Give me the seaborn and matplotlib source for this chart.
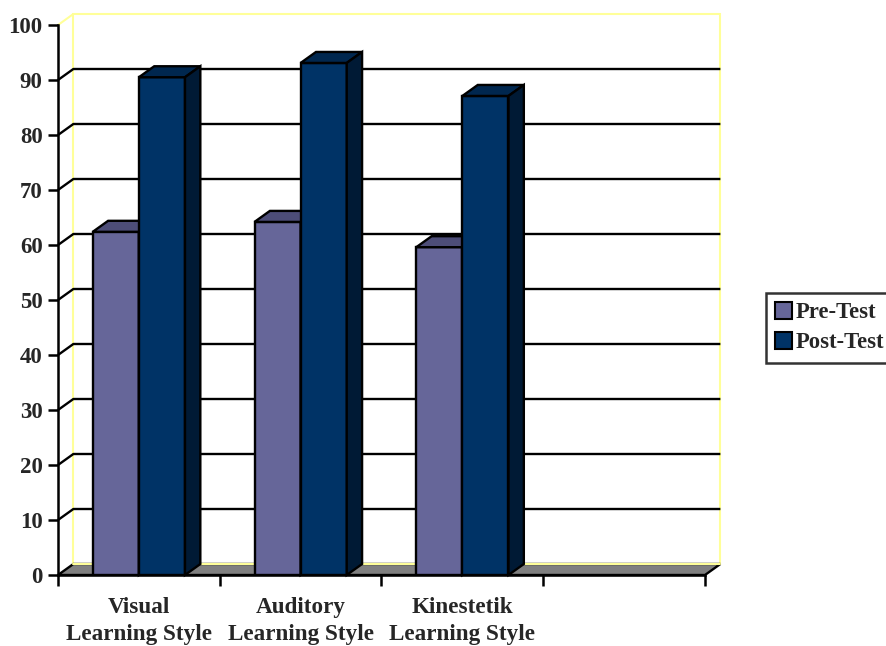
import matplotlib
matplotlib.use("Agg")
import matplotlib.pyplot as plt
from matplotlib.patches import Polygon
import pandas as pd
import seaborn as sns

categories = ['Visual\nLearning Style', 'Auditory\nLearning Style', 'Kinestetik\nLearning Style', ' ']
series = ['Pre-Test', 'Post-Test']
pre_test = [62.4, 64.2, 59.6]
post_test = [90.5, 93.1, 87.1]
y_ticks = [0, 10, 20, 30, 40, 50, 60, 70, 80, 90, 100]

front_colors = ['#666699', '#003366']
top_colors = ['#4d4d78', '#00274f']
side_colors = ['#3f3f63', '#001a35']
wall_col = '#ffff99'
lw = 1.7

sns.set_theme(style='white')
plt.rcParams['font.family'] = ['Liberation Serif', 'DejaVu Serif']
plt.rcParams['font.weight'] = 'bold'

data = pd.DataFrame({
    'Category': categories[:3] * 2,
    'Series': [series[0]] * 3 + [series[1]] * 3,
    'Score': pre_test + post_test,
})

fig = plt.figure(figsize=(8.87, 6.46), dpi=100)
ax = fig.add_axes([58 / 887, 71 / 646, 647 / 887, 550 / 646])

g = sns.barplot(data=data, x='Category', y='Score', hue='Series', order=categories,
                hue_order=series, palette=front_colors, saturation=1, width=0.57,
                edgecolor='black', linewidth=lw, ax=ax)

ax.set_xlim(-0.5, 3.5)
ax.set_ylim(0, 100)

# depth offset of the fake 3d (data units)
ddx, ddy = 0.095, 2.0
x0, x1 = -0.5, 3.5

# back wall
wall = Polygon([(x0 + ddx, ddy), (x0 + ddx, 100 + ddy), (x1 + ddx, 100 + ddy), (x1 + ddx, ddy)],
               closed=True, facecolor='white', edgecolor=wall_col, lw=1.5, zorder=0.2, clip_on=False)
ax.add_patch(wall)
ax.plot([x0, x0 + ddx], [100, 100 + ddy], color=wall_col, lw=1.5, zorder=0.25, clip_on=False)

# gridlines on left and back wall
for v in y_ticks[1:-1]:
    ax.plot([x0, x0 + ddx, x1 + ddx], [v, v + ddy, v + ddy], color='black', lw=lw,
            zorder=0.3, clip_on=False, solid_capstyle='butt')

# floor
floor = Polygon([(x0, 0), (x1, 0), (x1 + ddx, ddy), (x0 + ddx, ddy)], closed=True,
                facecolor='#808080', edgecolor='black', lw=lw, zorder=0.5, clip_on=False)
ax.add_patch(floor)
ax.plot([x0 + ddx, x1 + ddx], [ddy, ddy], color=wall_col, lw=1.5, zorder=0.55, clip_on=False)

# 3d faces of the columns
for i, cont in enumerate(ax.containers):
    for bar in cont:
        h = bar.get_height()
        if not h == h:
            continue
        bx0 = bar.get_x()
        bx1 = bx0 + bar.get_width()
        bar.set_zorder(2 + i)
        top = Polygon([(bx0, h), (bx0 + ddx, h + ddy), (bx1 + ddx, h + ddy), (bx1, h)], closed=True,
                      facecolor=top_colors[i], edgecolor='black', lw=lw, zorder=2.1 + i, clip_on=False)
        side = Polygon([(bx1, 0), (bx1, h), (bx1 + ddx, h + ddy), (bx1 + ddx, ddy)], closed=True,
                       facecolor=side_colors[i], edgecolor='black', lw=lw, zorder=2.1 + i, clip_on=False)
        ax.add_patch(top)
        ax.add_patch(side)

# axes
for s in ['top', 'right']:
    ax.spines[s].set_visible(False)
for s in ['left', 'bottom']:
    ax.spines[s].set_color('black')
    ax.spines[s].set_linewidth(1.8)
    ax.spines[s].set_zorder(5)

ax.set_yticks(y_ticks)
ax.set_yticklabels([str(v) for v in y_ticks], fontsize=16.5, fontweight='bold')
ax.set_xticks([-0.5, 0.5, 1.5, 2.5, 3.5])
ax.set_xticklabels([''] * 5)
ax.set_xticks([0, 1, 2, 3], categories, minor=True)
ax.tick_params(axis='y', which='major', left=True, length=7, width=1.8, color='black', pad=4)
ax.tick_params(axis='x', which='major', bottom=True, length=8, width=1.8, color='black')
ax.tick_params(axis='x', which='minor', bottom=False, length=0, pad=16, labelsize=16.7)
for t in ax.get_xticklabels(minor=True):
    t.set_fontweight('bold')
    t.set_linespacing(1.35)
ax.set_xlabel('')
ax.set_ylabel('')
ax.grid(False)

handles, labels = ax.get_legend_handles_labels()
leg = ax.legend(handles, labels, loc='upper left', bbox_to_anchor=(766 / 887, 1 - 293 / 646),
                bbox_transform=fig.transFigure, frameon=True, fancybox=False, edgecolor='black',
                prop={'weight': 'bold', 'size': 16.3}, handlelength=0.75, handleheight=0.75,
                handletextpad=0.15, borderpad=0.4, labelspacing=0.4, borderaxespad=0)
leg.get_frame().set_linewidth(1.8)
for hnd in leg.legend_handles:
    hnd.set_edgecolor('black')
    hnd.set_linewidth(1.5)

fig.savefig('out.png', dpi=100, facecolor='white')
